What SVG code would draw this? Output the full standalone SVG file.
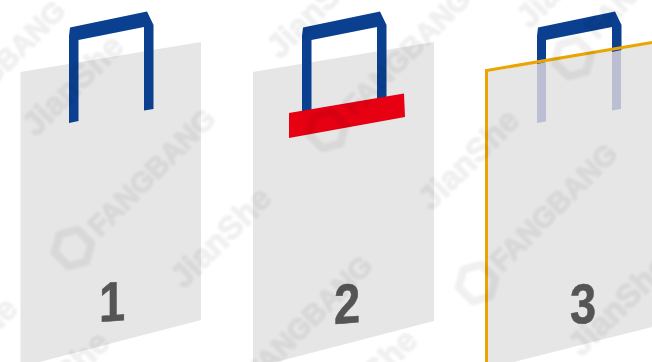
<svg xmlns="http://www.w3.org/2000/svg" width="652" height="362" viewBox="0 0 652 362">
<defs>
<style>
.bag{fill:#e6e6e6}
.handle{fill:#0b3f8f}
.ghost{fill:#bcbed3}
.num{font-family:"Liberation Sans",Arial,sans-serif;font-weight:700;font-size:56px;fill:#555;stroke:#555;stroke-width:.6;text-anchor:middle}
.wm{font-family:"Liberation Sans",Arial,sans-serif;font-weight:700;fill:#000;stroke:#000;stroke-width:1.4;opacity:.06}
.fb{font-size:29px}
.js{font-size:33px}
.hex{fill:none;stroke:#000;stroke-width:8;stroke-linejoin:round;opacity:.06}
</style>
<filter id="soft" x="-5%" y="-5%" width="110%" height="110%"><feGaussianBlur stdDeviation="0.9"/></filter>
<path id="h" d="M69 123V36L70 27.500L147 11.500L153.500 25V109L144 110.500V27L78.500 40V121Z"/>
<polygon id="x" points="0,-19 16,-10 16,10 0,19 -16,10 -16,-10"/>
</defs>
<g id="bag-1">
<path class="bag" d="M20.500 72L201 42V320L20.500 367Z"/>
<use href="#h" class="handle"/>
<text class="num" transform="matrix(.84 -.06 0 1 112 321)">1</text>
</g>
<g id="bag-2">
<path class="bag" d="M253 72L434 42V321L253 368Z"/>
<use href="#h" x="233" class="handle"/>
<path fill="#e60012" d="M289 113L404 93.500L405 117L289 138Z"/>
<text class="num" transform="matrix(.84 -.06 0 1 347 323)">2</text>
</g>
<g id="bag-3">
<path class="bag" d="M486 70L652 42V327L486 369Z"/>
<path class="ghost" d="M537 63H546V121.500L537 123ZM612 50H621V109L612 110.500Z"/>
<path class="handle" d="M537 64V36L538 27.500L615 11.500L621.500 25V50L612 52V27L546 40V62Z"/>
<path fill="none" stroke="#eba500" stroke-width="3" d="M486.500 362V70.500L652 42.500"/>
<text class="num" transform="matrix(.84 -.06 0 1 583 323)">3</text>
</g>
<g id="watermarks" filter="url(#soft)">
<g class="wm js">
<text transform="translate(36,138) rotate(-45)">JianShe</text>
<text transform="translate(184,290) rotate(-45)">JianShe</text>
<text transform="translate(280,60) rotate(-45)">JianShe</text>
<text transform="translate(432,212) rotate(-45)">JianShe</text>
<text transform="translate(582,358) rotate(-45)">JianShe</text>
<text transform="translate(-70,400) rotate(-45)">JianShe</text>
<text transform="translate(22,434) rotate(-45)">JianShe</text>
<text transform="translate(330,432) rotate(-45)">JianShe</text>
<text transform="translate(530,30) rotate(-45)">JianShe</text>
<text transform="translate(370,0) rotate(-45)">JianShe</text>
</g>
<g class="wm fb">
<text transform="translate(100,238) rotate(-45)">FANGBANG</text>
<text transform="translate(355,118) rotate(-45)">FANGBANG</text>
<text transform="translate(502,273) rotate(-45)">FANGBANG</text>
<text transform="translate(257,385) rotate(-45)">FANGBANG</text>
<text transform="translate(-50,130) rotate(-45)">FANGBANG</text>
<text transform="translate(597,40) rotate(-45)">FANGBANG</text>
</g>
<use href="#x" class="hex" transform="translate(73,248) rotate(-45)"/>
<use href="#x" class="hex" transform="translate(327,130) rotate(-45)"/>
<use href="#x" class="hex" transform="translate(477,283) rotate(-45)"/>
<use href="#x" class="hex" transform="translate(573,58) rotate(-45)"/>
</g>
</svg>
